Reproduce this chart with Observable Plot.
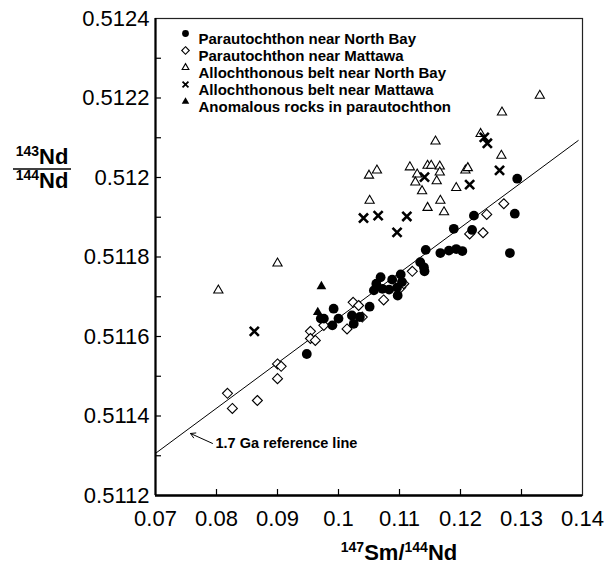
<!DOCTYPE html>
<html><head><meta charset="utf-8">
<script src="https://cdn.jsdelivr.net/npm/d3@7"></script>
<script src="https://cdn.jsdelivr.net/npm/@observablehq/plot@0.6"></script>
<style>body{margin:0;background:#fff} #chart{width:606px;height:566px}</style>
</head><body><div id="chart"></div>
<script>
// ---- data (147Sm/144Nd, 143Nd/144Nd) ----
const parautochthonNorthBay = [
  [0.0948,0.511556],[0.0971,0.511645],[0.0976,0.511645],[0.0990,0.511628],[0.0992,0.511670],
  [0.1000,0.511645],[0.1022,0.511653],[0.1025,0.511632],[0.1035,0.511649],[0.1051,0.511675],
  [0.1058,0.511716],[0.1062,0.511733],[0.1069,0.511749],[0.1072,0.511720],[0.1083,0.511718],
  [0.1088,0.511743],[0.1096,0.511723],[0.1097,0.511703],[0.1102,0.511756],[0.1104,0.511737],
  [0.1134,0.511787],[0.1140,0.511774],[0.1141,0.511764],[0.1143,0.511818],[0.1167,0.511810],
  [0.1181,0.511816],[0.1193,0.511820],[0.1203,0.511815],[0.1189,0.511871],[0.1219,0.511868],
  [0.1222,0.511904],[0.1289,0.511909],[0.1293,0.511997],[0.1281,0.511810]
];
const parautochthonMattawa = [
  [0.0818,0.511457],[0.0826,0.511419],[0.0867,0.511439],[0.0900,0.511494],[0.0900,0.511531],
  [0.0906,0.511525],[0.0954,0.511613],[0.0954,0.511595],[0.0962,0.511590],[0.0976,0.511628],
  [0.1014,0.511619],[0.1024,0.511686],[0.1033,0.511678],[0.1039,0.511649],[0.1074,0.511692],
  [0.1102,0.511723],[0.1107,0.511733],[0.1121,0.511764],[0.1215,0.511858],[0.1237,0.511861],
  [0.1243,0.511907],[0.1271,0.511934]
];
const allochthonNorthBay = [
  [0.0803,0.511716],[0.0900,0.511784],[0.1050,0.512005],[0.1063,0.512018],[0.1051,0.511942],
  [0.1117,0.512026],[0.1129,0.512008],[0.1126,0.511988],[0.1137,0.511966],[0.1146,0.512030],
  [0.1152,0.512030],[0.1166,0.512028],[0.1166,0.512013],[0.1161,0.511991],[0.1159,0.512091],
  [0.1146,0.511924],[0.1167,0.511942],[0.1173,0.511913],[0.1193,0.511974],[0.1208,0.512018],
  [0.1212,0.512024],[0.1233,0.512110],[0.1267,0.512055],[0.1268,0.512164],[0.1330,0.512206]
];
const allochthonMattawa = [
  [0.0862,0.511613],[0.1041,0.511898],[0.1065,0.511904],[0.1096,0.511862],[0.1112,0.511902],
  [0.1141,0.512001],[0.1215,0.511982],[0.1239,0.512101],[0.1244,0.512086],[0.1264,0.512018]
];
const anomalousRocks = [[0.0972,0.511726],[0.0966,0.511661]];

const refLineX = [0.07, 0.1393];
const refLineY = [0.511306, 0.512093];
const refLabel = "1.7 Ga reference line";
const refArrowFrom = [0.07934, 0.511331];
const refArrowTo = [0.07574, 0.511356];

const xTicks = [0.07,0.08,0.09,0.10,0.11,0.12,0.13,0.14];
const xTickLabels = ["0.07","0.08","0.09","0.1","0.11","0.12","0.13","0.14"];
const yTicks = [0.5112,0.5114,0.5116,0.5118,0.5120,0.5122,0.5124];
const yTickLabels = ["0.5112","0.5114","0.5116","0.5118","0.512","0.5122","0.5124"];
const yMinorTicks = [0.5113,0.5115,0.5117,0.5119,0.5121,0.5123];

const legendLabels = [
  "Parautochthon near North Bay",
  "Parautochthon near Mattawa",
  "Allochthonous belt near North Bay",
  "Allochthonous belt near Mattawa",
  "Anomalous rocks in parautochthon"
];

// ---- layout ----
const FONT = "'Liberation Sans', Arial, Helvetica, sans-serif";
const W = 606, H = 566, mL = 155, mR = 24, mT = 18, mB = 71;
const pw = W - mL - mR, ph = H - mT - mB;

const xLab = new Map(xTicks.map((d, i) => [d, xTickLabels[i]]));
const yLab = new Map(yTicks.map((d, i) => [d, yTickLabels[i]]));
const refLine = refLineX.map((x, i) => ({x, y: refLineY[i]}));
const pt = {x: d => d[0], y: d => d[1]};

const legendStyles = [
  {symbol: "circle", fill: "black", stroke: "none", r: 3.4},
  {symbol: "diamond2", fill: "white", stroke: "black", strokeWidth: 1.1, r: 3.4},
  {symbol: "triangle2", fill: "white", stroke: "black", strokeWidth: 1.1, r: 3.2},
  {symbol: "times", fill: "none", stroke: "black", strokeWidth: 1.8, r: 2.8},
  {symbol: "triangle", fill: "black", stroke: "none", r: 2.8}
];
const legendMarks = legendLabels.flatMap((label, i) => [
  Plot.dot([label], {frameAnchor: "top-left", dx: 30, dy: 15 + i * 17, ...legendStyles[i]}),
  Plot.text([label], {frameAnchor: "top-left", dx: 43, dy: 15 + i * 17, text: d => d,
    textAnchor: "start", fontWeight: "bold", fontSize: 15, fill: "black"})
]);

const chart = Plot.plot({
  width: W, height: H,
  marginLeft: mL, marginRight: mR, marginTop: mT, marginBottom: mB,
  style: {fontFamily: FONT, background: "white", color: "black"},
  x: {domain: [0.07, 0.14]},
  y: {domain: [0.5112, 0.5124]},
  marks: [
    Plot.line(refLine, {x: "x", y: "y", stroke: "black", strokeWidth: 1}),
    Plot.tickX(xTicks.slice(1, -1), {x: d => d, insetTop: ph - 6, stroke: "black", strokeWidth: 1.2}),
    Plot.tickY(yTicks.slice(1, -1), {y: d => d, insetRight: pw - 6, stroke: "black", strokeWidth: 1.2}),
    Plot.tickY(yMinorTicks, {y: d => d, insetRight: pw - 6, stroke: "black", strokeWidth: 1.2}),
    Plot.frame({stroke: "#222", strokeWidth: 1.2}),
    Plot.ruleX([0.07], {stroke: "black", strokeWidth: 2.2}),
    Plot.ruleY([0.5112], {stroke: "black", strokeWidth: 2.6}),
    Plot.axisX(xTicks, {tickSize: 0, tickPadding: 15, tickFormat: d => xLab.get(d), fontSize: 22, label: null}),
    Plot.axisY(yTicks, {tickSize: 0, tickPadding: 6, tickFormat: d => yLab.get(d), fontSize: 22, label: null}),
    Plot.arrow([0], {x1: () => refArrowFrom[0], y1: () => refArrowFrom[1], x2: () => refArrowTo[0], y2: () => refArrowTo[1],
      stroke: "black", strokeWidth: 1, headLength: 8, bend: 0}),
    Plot.text([refLabel], {x: () => refArrowFrom[0], y: () => refArrowFrom[1], text: d => d, dx: 3,
      textAnchor: "start", fontWeight: "bold", fontSize: 14.5, fill: "black"}),
    Plot.dot(parautochthonMattawa, {...pt, symbol: "diamond2", fill: "white", stroke: "black", strokeWidth: 1.1, r: 4.5}),
    Plot.dot(allochthonNorthBay, {...pt, symbol: "triangle2", fill: "white", stroke: "black", strokeWidth: 1.1, r: 4.4}),
    Plot.dot(parautochthonNorthBay, {...pt, symbol: "circle", fill: "black", stroke: "none", r: 4.9}),
    Plot.dot(allochthonMattawa, {...pt, symbol: "times", fill: "none", stroke: "black", strokeWidth: 2.6, r: 4.2}),
    Plot.dot(anomalousRocks, {...pt, symbol: "triangle", fill: "black", stroke: "none", r: 3.6}),
    ...legendMarks
  ]
});

// rich-text axis titles with superscripts
const svg = d3.select(chart);
const yTop = svg.append("text").attr("font-family", FONT).attr("font-weight", "bold").attr("text-anchor", "middle").attr("fill", "black").attr("x", 42).attr("y", 164);
yTop.append("tspan").attr("font-size", 14).attr("dy", -8).text("143");
yTop.append("tspan").attr("font-size", 22).attr("dy", 8).text("Nd");
const yBot = svg.append("text").attr("font-family", FONT).attr("font-weight", "bold").attr("text-anchor", "middle").attr("fill", "black").attr("x", 42).attr("y", 188);
yBot.append("tspan").attr("font-size", 14).attr("dy", -8).text("144");
yBot.append("tspan").attr("font-size", 22).attr("dy", 8).text("Nd");
svg.append("line").attr("x1", 13).attr("x2", 71).attr("y1", 169).attr("y2", 169).attr("stroke", "black").attr("stroke-width", 1.5);

const xt = svg.append("text").attr("font-family", FONT).attr("font-weight", "bold").attr("text-anchor", "middle").attr("fill", "black").attr("x", 399).attr("y", 560);
xt.append("tspan").attr("font-size", 14).attr("dy", -8).text("147");
xt.append("tspan").attr("font-size", 22).attr("dy", 8).text("Sm/");
xt.append("tspan").attr("font-size", 14).attr("dy", -8).text("144");
xt.append("tspan").attr("font-size", 22).attr("dy", 8).text("Nd");

document.getElementById("chart").append(chart);
</script>
</body></html>
